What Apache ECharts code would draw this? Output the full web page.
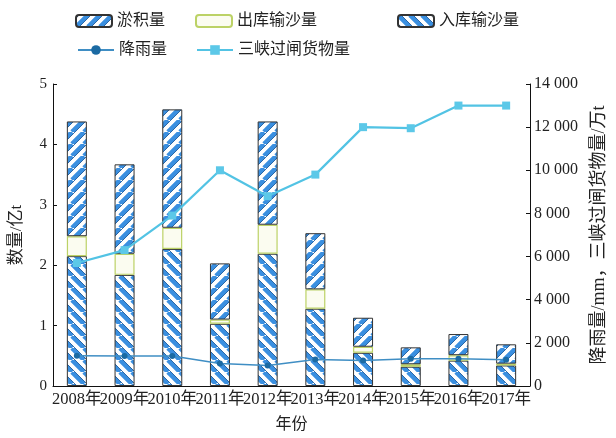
<!DOCTYPE html>
<html>
<head>
<meta charset="utf-8">
<script src="https://cdn.jsdelivr.net/npm/echarts@6/dist/echarts.min.js"></script>
<style>
  html, body { margin: 0; padding: 0; background: #fff; }
  #chart { width: 616px; height: 438px; }
</style>
</head>
<body>
<div id="chart"></div>
<script>
// Years on the category axis
const years = ['2008年', '2009年', '2010年', '2011年', '2012年', '2013年', '2014年', '2015年', '2016年', '2017年'];

// Sediment (亿t), stacked: inflow at the bottom, outflow in the middle, deposition on top
const inflowSediment  = [2.15, 1.84, 2.27, 1.03, 2.19, 1.28, 0.55, 0.32, 0.42, 0.34];
const outflowSediment = [0.33, 0.35, 0.35, 0.07, 0.48, 0.32, 0.10, 0.04, 0.09, 0.03];
const deposition      = [1.90, 1.48, 1.96, 0.93, 1.71, 0.93, 0.48, 0.28, 0.35, 0.32];

// Right axis: rainfall (mm) and Three Gorges lock freight (万t)
const rainfall = [1400, 1390, 1390, 1040, 950, 1230, 1180, 1260, 1260, 1220];
const freight  = [5700, 6300, 7900, 10000, 8800, 9800, 12000, 11950, 13000, 13000];

// Axis ticks
const leftTicks  = { min: 0, max: 5, interval: 1 };
const rightTicks = { min: 0, max: 14000, interval: 2000 };

const serif = '"Liberation Serif", "Noto Sans CJK SC", serif';
const txt = '#222';

// Diagonal hatch tile: dir = 1 draws "/" stripes, dir = -1 draws "\" stripes
function hatchTile(dir) {
  const s = 12;
  const c = document.createElement('canvas');
  c.width = s; c.height = s;
  const g = c.getContext('2d');
  g.fillStyle = '#ffffff';
  g.fillRect(0, 0, s, s);
  function stroke(color, width, shift) {
    g.strokeStyle = color;
    g.lineWidth = width;
    g.beginPath();
    for (let k = -2; k <= 2; k++) {
      const x = k * s + shift;
      if (dir > 0) { g.moveTo(x, s); g.lineTo(x + s, 0); }
      else { g.moveTo(x, 0); g.lineTo(x + s, s); }
    }
    g.stroke();
  }
  stroke('#3a8fe0', 4.6, 0);
  stroke('#225f9e', 0.9, 3.0);
  return { image: c, repeat: 'repeat' };
}

function thousands(v) {
  if (v < 1000) return String(v);
  return Math.floor(v / 1000) + ' ' + String(v % 1000).padStart(3, '0');
}

function legendAt(name, left, top) {
  return {
    data: [name], left: left, top: top,
    itemWidth: 36, itemHeight: 12, itemGap: 6,
    textStyle: { fontFamily: serif, fontSize: 16, color: txt }
  };
}

const chart = echarts.init(document.getElementById('chart'), null, { renderer: 'canvas' });
chart.setOption({
  animation: false,
  backgroundColor: '#fff',
  legend: [
    legendAt('淤积量', 70, 8),
    legendAt('出库输沙量', 190, 8),
    legendAt('入库输沙量', 392, 8),
    legendAt('降雨量', 72, 37),
    legendAt('三峡过闸货物量', 191, 37)
  ],
  grid: { left: 46, right: 80, top: 84, bottom: 42 },
  xAxis: {
    type: 'category',
    data: years,
    name: '年份',
    nameLocation: 'middle',
    nameGap: 31,
    nameTextStyle: { fontFamily: serif, fontSize: 16, color: txt },
    axisLine: { lineStyle: { color: '#111', width: 1 } },
    axisTick: { show: false },
    axisLabel: { interval: 0, fontFamily: serif, fontSize: 16.5, color: txt, margin: 5 }
  },
  yAxis: [
    {
      type: 'value',
      min: leftTicks.min, max: leftTicks.max, interval: leftTicks.interval,
      name: '数量/亿t',
      nameLocation: 'middle',
      nameGap: 28,
      nameRotate: 90,
      nameTextStyle: { fontFamily: serif, fontSize: 17, color: txt },
      axisLine: { show: true, lineStyle: { color: '#111' } },
      axisTick: { show: true, inside: true, length: 4, lineStyle: { color: '#111' } },
      axisLabel: { fontFamily: serif, fontSize: 15, color: txt, margin: 6 },
      splitLine: { show: false }
    },
    {
      type: 'value',
      position: 'right',
      min: rightTicks.min, max: rightTicks.max, interval: rightTicks.interval,
      name: '降雨量/mm，三峡过闸货物量/万t',
      nameLocation: 'middle',
      nameGap: 60,
      nameRotate: 90,
      nameTextStyle: { fontFamily: serif, fontSize: 18, color: txt },
      axisLine: { show: true, lineStyle: { color: '#111' } },
      axisTick: { show: true, inside: true, length: 4, lineStyle: { color: '#111' } },
      axisLabel: { fontFamily: serif, fontSize: 16, color: txt, margin: 4, formatter: thousands },
      splitLine: { show: false }
    }
  ],
  series: [
    {
      name: '入库输沙量', type: 'bar', stack: 'sed', barWidth: 20,
      data: inflowSediment,
      itemStyle: { color: hatchTile(-1), borderColor: '#333', borderWidth: 1 }
    },
    {
      name: '出库输沙量', type: 'bar', stack: 'sed', barWidth: 20,
      data: outflowSediment,
      itemStyle: { color: '#fbfcf0', borderColor: '#bcd266', borderWidth: 1.2 }
    },
    {
      name: '淤积量', type: 'bar', stack: 'sed', barWidth: 20,
      data: deposition,
      itemStyle: { color: hatchTile(1), borderColor: '#333', borderWidth: 1 }
    },
    {
      name: '降雨量', type: 'line', yAxisIndex: 1,
      data: rainfall,
      symbol: 'circle', symbolSize: 6,
      lineStyle: { color: '#3f8ec4', width: 1.5 },
      itemStyle: { color: '#1b6aa3' }
    },
    {
      name: '三峡过闸货物量', type: 'line', yAxisIndex: 1,
      data: freight,
      symbol: 'rect', symbolSize: 8,
      lineStyle: { color: '#52c3e4', width: 2.2 },
      itemStyle: { color: '#5cc8e8' }
    }
  ]
});
</script>
</body>
</html>
